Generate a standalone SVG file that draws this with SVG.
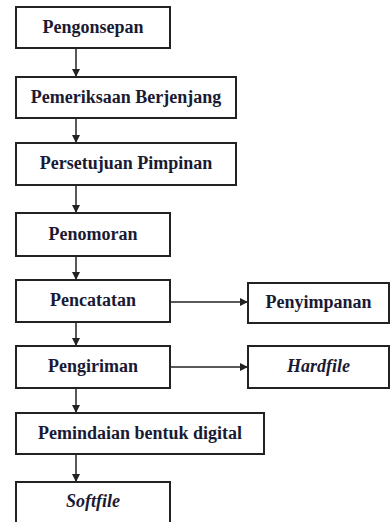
<svg xmlns="http://www.w3.org/2000/svg" width="392" height="522" viewBox="0 0 392 522">
<style>
.box{fill:#fff;stroke:#222;stroke-width:2}
.t{font-family:"Liberation Serif","Times New Roman",serif;font-weight:bold;font-size:18px;fill:#1a1a33;text-anchor:middle}
.i{font-style:italic}
.c{stroke:#222;stroke-width:1.5;fill:none;marker-end:url(#ah)}
</style>
<defs>
<marker id="ah" viewBox="0 0 10 10" refX="10" refY="5" markerWidth="8" markerHeight="8" markerUnits="userSpaceOnUse" orient="auto">
<path d="M0,0 L10,5 L0,10 z" fill="#222"/>
</marker>
</defs>
<rect width="392" height="522" fill="#fff"/>
<g id="connectors">
<line class="c" x1="76" y1="48" x2="76" y2="77"/>
<line class="c" x1="76" y1="118" x2="76" y2="143"/>
<line class="c" x1="76" y1="185" x2="76" y2="213"/>
<line class="c" x1="76" y1="256" x2="76" y2="280"/>
<line class="c" x1="76" y1="322" x2="76" y2="346"/>
<line class="c" x1="76" y1="388" x2="76" y2="413"/>
<line class="c" x1="76" y1="454" x2="76" y2="482"/>
<line class="c" x1="170" y1="302" x2="248" y2="302"/>
<line class="c" x1="170" y1="367" x2="248" y2="367"/>
</g>
<g id="n1"><rect class="box" x="16" y="7" width="154" height="41"/><text class="t" x="93" y="33">Pengonsepan</text></g>
<g id="n2"><rect class="box" x="16" y="77" width="220" height="41"/><text class="t" x="126" y="103">Pemeriksaan Berjenjang</text></g>
<g id="n3"><rect class="box" x="16" y="143" width="220" height="42"/><text class="t" x="126" y="169">Persetujuan Pimpinan</text></g>
<g id="n4"><rect class="box" x="16" y="213" width="154" height="43"/><text class="t" x="93" y="240">Penomoran</text></g>
<g id="n5"><rect class="box" x="16" y="280" width="154" height="42"/><text class="t" x="93" y="306">Pencatatan</text></g>
<g id="n6"><rect class="box" x="16" y="346" width="154" height="42"/><text class="t" x="93" y="372">Pengiriman</text></g>
<g id="n7"><rect class="box" x="16" y="413" width="248" height="41"/><text class="t" x="140" y="439">Pemindaian bentuk digital</text></g>
<g id="n8"><rect class="box" x="16" y="482" width="154" height="44"/><text class="t i" x="93" y="507">Softfile</text></g>
<g id="n9"><rect class="box" x="248" y="283" width="141" height="40"/><text class="t" x="318.5" y="308">Penyimpanan</text></g>
<g id="n10"><rect class="box" x="248" y="346" width="141" height="42"/><text class="t i" x="318.5" y="372">Hardfile</text></g>
</svg>
